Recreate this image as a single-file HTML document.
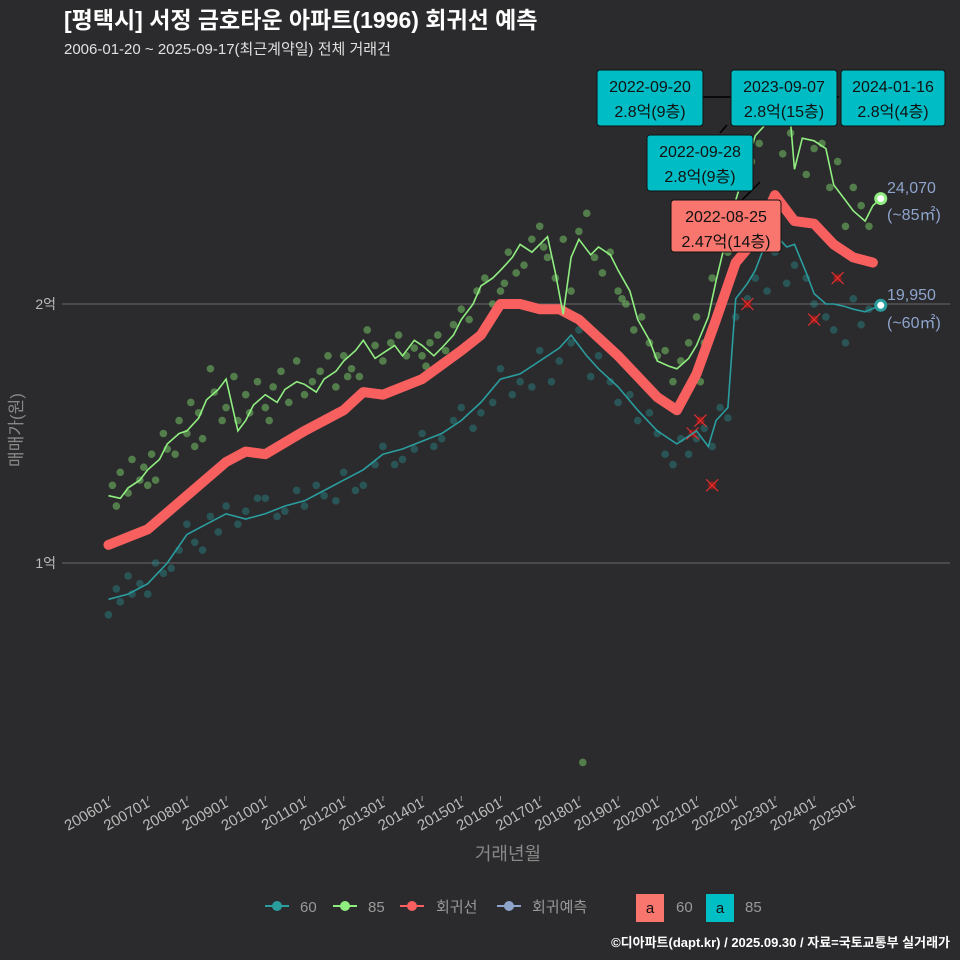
<!DOCTYPE html>
<html><head><meta charset="utf-8">
<style>
html,body{margin:0;padding:0;background:#2b2b2d;width:960px;height:960px;overflow:hidden;}
body{font-family:"Liberation Sans","Noto Sans CJK KR",sans-serif;}
svg{display:block;}
svg text{font-family:"Liberation Sans","Noto Sans CJK KR",sans-serif;}
</style></head>
<body>
<svg id="chart" width="960" height="960" viewBox="0 0 960 960">
<rect width="960" height="960" fill="#2b2b2d"/>
<text x="64" y="28" fill="#ffffff" font-size="23" font-weight="bold">[평택시] 서정 금호타운 아파트(1996) 회귀선 예측</text>
<text x="64" y="54" fill="#e0e0e0" font-size="15">2006-01-20 ~ 2025-09-17(최근계약일) 전체 거래건</text>
<g id="grid"></g>
<g id="pts"></g>
<g id="lines"></g>
<g id="xaxis"></g>
<g id="ann"></g>
<text transform="translate(22,430) rotate(-90)" text-anchor="middle" fill="#888" font-size="17">매매가(원)</text>
<text x="508" y="860" text-anchor="middle" fill="#888" font-size="18">거래년월</text>
<g id="legend">
 <g><line x1="265" y1="906" x2="289" y2="906" stroke="#2a9d9f" stroke-width="2"/><circle cx="277" cy="906" r="5" fill="#2a9d9f"/><text x="300" y="912" fill="#999" font-size="15">60</text></g>
 <g><line x1="333" y1="906" x2="357" y2="906" stroke="#90ee80" stroke-width="2"/><circle cx="345" cy="906" r="5" fill="#90ee80"/><text x="368" y="912" fill="#999" font-size="15">85</text></g>
 <g><line x1="400" y1="906" x2="424" y2="906" stroke="#f8605f" stroke-width="2"/><circle cx="412" cy="906" r="5" fill="#f8605f"/><text x="436" y="912" fill="#999" font-size="15">회귀선</text></g>
 <g><line x1="497" y1="906" x2="521" y2="906" stroke="#8ea4cc" stroke-width="2"/><circle cx="509" cy="906" r="5" fill="#8ea4cc"/><text x="532" y="912" fill="#999" font-size="15">회귀예측</text></g>
 <g><rect x="636" y="894" width="28" height="28" fill="#f8766d"/><text x="650" y="913" text-anchor="middle" fill="#111" font-size="15">a</text><text x="676" y="912" fill="#999" font-size="15">60</text></g>
 <g><rect x="706" y="894" width="28" height="28" fill="#00bfc4"/><text x="720" y="913" text-anchor="middle" fill="#111" font-size="15">a</text><text x="745" y="912" fill="#999" font-size="15">85</text></g>
</g>
<text x="950" y="947" text-anchor="end" fill="#fff" font-size="13" font-weight="bold">©디아파트(dapt.kr) / 2025.09.30 / 자료=국토교통부 실거래가</text>
</svg>
<script>
const yTicks=[1,2];
const yTickLabels=['1억','2억'];
const xTickYears=[2006,2007,2008,2009,2010,2011,2012,2013,2014,2015,2016,2017,2018,2019,2020,2021,2022,2023,2024,2025];
const regT=[2006,2007,2008,2009,2009.5,2010,2011,2012,2012.5,2013,2014,2015,2015.5,2016,2016.5,2017,2017.5,2018,2019,2020,2020.5,2021,2021.5,2022,2022.5,2023,2023.5,2024,2024.5,2025,2025.5];
const regV=[1.07,1.13,1.26,1.39,1.43,1.42,1.51,1.59,1.66,1.65,1.71,1.82,1.88,2.0,2.0,1.98,1.98,1.94,1.80,1.64,1.59,1.73,1.94,2.16,2.25,2.42,2.32,2.31,2.23,2.18,2.16];
const s85T=[2006,2006.3,2006.5,2006.8,2007,2007.3,2007.5,2007.8,2008,2008.3,2008.5,2008.8,2009,2009.3,2009.5,2009.7,2010,2010.3,2010.5,2010.8,2011,2011.3,2011.5,2011.8,2012,2012.3,2012.5,2012.8,2013,2013.3,2013.5,2013.8,2014,2014.3,2014.5,2014.8,2015,2015.3,2015.5,2015.8,2016,2016.3,2016.5,2016.8,2017,2017.2,2017.4,2017.6,2017.8,2018,2018.3,2018.5,2018.8,2019,2019.3,2019.5,2019.8,2020,2020.3,2020.5,2020.8,2021,2021.3,2021.5,2021.8,2022,2022.3,2022.5,2022.8,2023,2023.2,2023.4,2023.5,2023.7,2024,2024.3,2024.5,2024.8,2025,2025.3,2025.5,2025.7];
const s85V=[1.26,1.25,1.29,1.32,1.36,1.40,1.46,1.50,1.51,1.56,1.63,1.67,1.71,1.51,1.55,1.61,1.65,1.62,1.67,1.70,1.69,1.66,1.71,1.74,1.78,1.82,1.86,1.79,1.81,1.84,1.80,1.86,1.84,1.80,1.83,1.88,1.94,2.00,2.07,2.10,2.13,2.18,2.23,2.20,2.23,2.26,2.12,1.96,2.18,2.25,2.19,2.22,2.19,2.13,2.05,1.94,1.86,1.78,1.76,1.75,1.79,1.84,1.95,2.09,2.28,2.40,2.55,2.65,2.70,2.69,2.72,2.70,2.52,2.64,2.63,2.60,2.46,2.40,2.36,2.32,2.38,2.407];
const s60T=[2006,2006.5,2007,2007.5,2008,2008.5,2009,2009.5,2010,2010.5,2011,2011.5,2012,2012.5,2013,2013.5,2014,2014.5,2015,2015.5,2016,2016.5,2017,2017.5,2017.8,2018.2,2018.5,2019,2019.5,2020,2020.5,2021,2021.3,2021.5,2021.8,2022,2022.3,2022.5,2022.8,2023,2023.3,2023.5,2023.8,2024,2024.3,2024.5,2024.8,2025,2025.3,2025.7];
const s60V=[0.86,0.88,0.92,1.00,1.11,1.15,1.19,1.17,1.19,1.22,1.24,1.28,1.32,1.36,1.42,1.44,1.47,1.50,1.55,1.62,1.71,1.73,1.78,1.83,1.88,1.80,1.75,1.68,1.59,1.51,1.46,1.51,1.45,1.55,1.60,2.02,2.08,2.13,2.25,2.27,2.22,2.23,2.12,2.04,2.00,2.0,1.99,1.98,1.97,1.995];
const p85T=[2006.1,2006.2,2006.3,2006.5,2006.6,2006.8,2006.9,2007.1,2007.2,2007.4,2007.5,2007.7,2007.8,2008.0,2008.1,2008.3,2008.4,2008.6,2008.7,2008.9,2009.0,2009.2,2009.3,2009.5,2009.6,2009.8,2010.0,2010.2,2010.4,2010.6,2010.8,2011.0,2011.2,2011.4,2011.6,2011.8,2012.0,2012.2,2012.4,2012.6,2012.8,2013.0,2013.2,2013.4,2013.6,2013.8,2014.0,2014.2,2014.4,2014.6,2014.8,2015.0,2015.2,2015.4,2015.6,2015.8,2016.0,2016.2,2016.4,2016.6,2016.8,2017.0,2017.2,2017.4,2017.6,2017.8,2018.0,2018.2,2018.4,2018.6,2018.8,2019.0,2019.2,2019.4,2019.6,2019.8,2020.0,2020.2,2020.4,2020.6,2020.8,2021.0,2021.2,2021.4,2021.6,2021.8,2022.0,2022.2,2022.4,2022.6,2022.8,2023.0,2023.2,2023.4,2023.6,2023.8,2024.0,2024.2,2024.4,2024.6,2024.8,2025.0,2025.2,2025.4,2018.1,2007.0,2008.2,2010.1,2012.1,2014.1,2016.1,2017.1,2019.1,2021.1];
const p85V=[1.30,1.22,1.35,1.27,1.40,1.32,1.37,1.42,1.32,1.50,1.44,1.42,1.55,1.50,1.62,1.58,1.48,1.75,1.66,1.55,1.60,1.72,1.55,1.65,1.58,1.70,1.60,1.68,1.74,1.62,1.78,1.65,1.70,1.74,1.80,1.68,1.80,1.75,1.72,1.90,1.84,1.78,1.85,1.88,1.80,1.83,1.80,1.85,1.88,1.82,1.92,1.98,1.94,2.05,2.10,2.00,2.05,2.20,2.12,2.15,2.25,2.30,2.18,2.10,2.25,2.05,2.28,2.35,2.18,2.12,2.20,2.05,2.00,1.90,1.95,1.85,1.80,1.82,1.70,1.78,1.85,1.95,1.85,2.10,2.00,2.20,2.35,2.45,2.55,2.62,2.75,2.70,2.58,2.66,2.72,2.50,2.60,2.62,2.45,2.55,2.30,2.45,2.38,2.30,0.23,1.30,1.45,1.55,1.72,1.76,2.08,2.22,2.02,1.70];
const p60T=[2006.0,2006.2,2006.3,2006.5,2006.6,2006.8,2007.0,2007.2,2007.4,2007.6,2007.8,2008.0,2008.2,2008.4,2008.6,2008.8,2009.0,2009.3,2009.5,2009.8,2010.0,2010.3,2010.5,2010.8,2011.0,2011.3,2011.5,2011.8,2012.0,2012.3,2012.5,2012.8,2013.0,2013.3,2013.5,2013.8,2014.0,2014.3,2014.5,2014.8,2015.0,2015.3,2015.5,2015.8,2016.0,2016.3,2016.5,2016.8,2017.0,2017.3,2017.5,2017.8,2018.0,2018.3,2018.5,2018.8,2019.0,2019.3,2019.5,2019.8,2020.0,2020.2,2020.4,2020.6,2020.8,2021.0,2021.2,2021.4,2021.6,2021.8,2022.0,2022.3,2022.5,2022.8,2023.0,2023.3,2023.5,2023.8,2024.0,2024.3,2024.5,2024.8,2025.0,2025.2,2025.4];
const p60V=[0.80,0.90,0.85,0.95,0.88,0.92,0.88,1.00,0.96,0.98,1.05,1.15,1.08,1.05,1.18,1.12,1.22,1.15,1.20,1.25,1.25,1.18,1.20,1.28,1.22,1.30,1.26,1.24,1.35,1.28,1.30,1.38,1.45,1.38,1.40,1.44,1.50,1.45,1.48,1.55,1.60,1.52,1.58,1.62,1.75,1.65,1.70,1.68,1.82,1.70,1.78,1.85,1.90,1.72,1.80,1.70,1.62,1.65,1.55,1.58,1.50,1.42,1.38,1.48,1.42,1.48,1.52,1.45,1.60,1.56,1.95,2.02,2.10,2.05,2.20,2.08,2.15,2.10,2.00,1.95,1.90,1.85,2.02,1.92,1.98];
const xT=[2020.9,2021.1,2021.4,2022.3,2024.0,2024.6];
const xV=[1.50,1.55,1.30,2.00,1.94,2.10];

const X=t=>108.5+(t-2006)*39.2;
const Y=v=>563-(v-1)*259;
const NS='http://www.w3.org/2000/svg';
function mk(tag,attrs,parent){const e=document.createElementNS(NS,tag);for(const k in attrs)e.setAttribute(k,attrs[k]);parent.appendChild(e);return e;}
const grid=document.getElementById('grid');
yTicks.forEach((v,i)=>{
 const l=mk('line',{x1:62,x2:950,y1:Y(v),y2:Y(v),stroke:'#6a6a6a','stroke-width':1},grid);
 
 
 const t=mk('text',{x:56,y:Y(v)+5,'text-anchor':'end',fill:'#bbb','font-size':14},grid);
 t.textContent=yTickLabels[i];
 
 
});
const xa=document.getElementById('xaxis');
xTickYears.forEach(yr=>{
 const x=X(yr);
 const tk=mk('line',{x1:x,x2:x,y1:796,y2:801,stroke:'#999'},xa);
 
 
 const t=mk('text',{transform:`translate(${x+3},806) rotate(-30)`,'text-anchor':'end',fill:'#bbb','font-size':15},xa);
 t.textContent=yr+'01';
 
 
});
const pts=document.getElementById('pts');
p60T.forEach((t,i)=>{const c=mk('circle',{cx:X(t),cy:Y(p60V[i]),r:3.8,fill:'#2a8a8c','fill-opacity':0.45},pts);
 
 });
p85T.forEach((t,i)=>{const c=mk('circle',{cx:X(t),cy:Y(p85V[i]),r:3.8,fill:'#7ccf6a','fill-opacity':0.5},pts);
 
 });
xT.forEach((t,i)=>{const g=mk('g',{},pts);
 
 
 const x=X(t),y=Y(xV[i]);
 mk('circle',{cx:x,cy:y,r:4,fill:'#8b1a1a'},g);
 mk('path',{d:`M${x-6},${y-6}L${x+6},${y+6}M${x-6},${y+6}L${x+6},${y-6}`,stroke:'#e03030','stroke-width':1.2},g);});
const lines=document.getElementById('lines');
const pathOf=(T,V)=>T.map((t,i)=>(i?'L':'M')+X(t).toFixed(1)+','+Y(V[i]).toFixed(1)).join('');
const l60=mk('path',{d:pathOf(s60T,s60V),fill:'none',stroke:'#2a9d9f','stroke-width':1.6},lines);


const reg=mk('path',{d:pathOf(regT,regV),fill:'none',stroke:'#f8605f','stroke-width':10,'stroke-linejoin':'round','stroke-linecap':'round'},lines);


const l85=mk('path',{d:pathOf(s85T,s85V),fill:'none',stroke:'#90ee80','stroke-width':1.6},lines);


const e85=mk('circle',{cx:X(2025.7),cy:Y(2.407),r:5,fill:'#fff',stroke:'#90ee80','stroke-width':3},lines);


const e60=mk('circle',{cx:X(2025.7),cy:Y(1.995),r:5,fill:'#fff',stroke:'#2a9d9f','stroke-width':3},lines);


const ann=document.getElementById('ann');
[['24,070',187,'end-value-85'],['(~85㎡)',214,'end-area-85'],['19,950',294,'end-value-60'],['(~60㎡)',322,'end-area-60']].forEach(a=>{
 const t=mk('text',{x:887,y:a[1]+6,fill:'#8ea4cc','font-size':16},ann);t.textContent=a[0];
 
 });
mk('path',{d:'M700,97L735,97M839,97L815,97M720,133L727,125M740,202L760,182',stroke:'#000','stroke-width':1.5,fill:'none'},ann);
const boxes=[[597,70,106,56,'2022-09-20','2.8억(9층)','#00bcc4','label-2022-09-20'],[731,70,106,56,'2023-09-07','2.8억(15층)','#00bcc4','label-2023-09-07'],[841,70,104,56,'2024-01-16','2.8억(4층)','#00bcc4','label-2024-01-16'],[647,135,106,56,'2022-09-28','2.8억(9층)','#00bcc4','label-2022-09-28'],[671,200,110,52,'2022-08-25','2.47억(14층)','#f8766d','label-2022-08-25']];
boxes.forEach(b=>{const g=mk('g',{},ann);
 
 
 mk('rect',{x:b[0],y:b[1],width:b[2],height:b[3],rx:3,fill:b[6],stroke:'#111','stroke-width':1},g);
 const t1=mk('text',{x:b[0]+b[2]/2,y:b[1]+22,'text-anchor':'middle',fill:'#111','font-size':16},g);t1.textContent=b[4];
 const t2=mk('text',{x:b[0]+b[2]/2,y:b[1]+47,'text-anchor':'middle',fill:'#111','font-size':16},g);t2.textContent=b[5];});
</script>
</body></html>
